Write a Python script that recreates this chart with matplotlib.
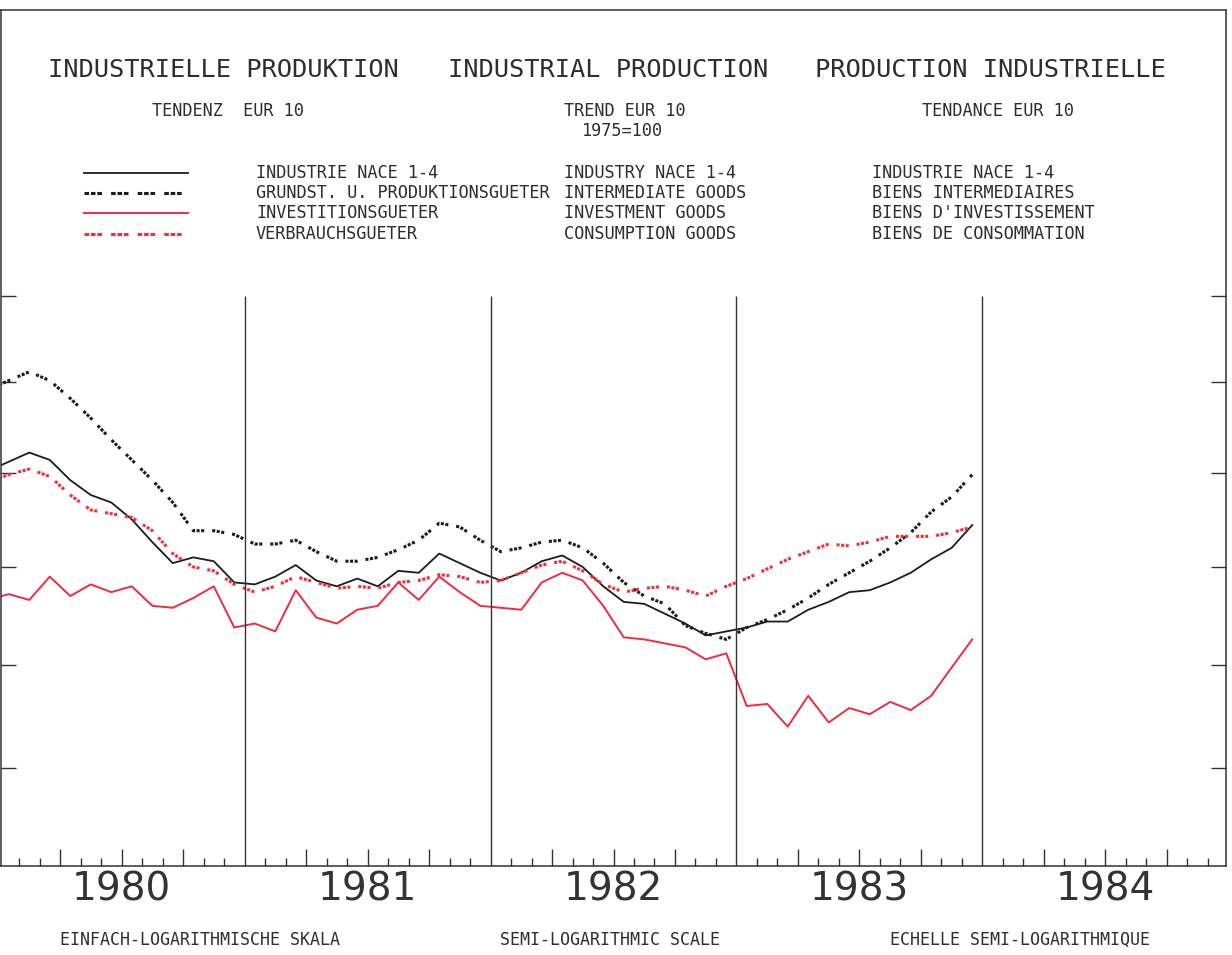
import matplotlib.pyplot as plt
import numpy as np
from matplotlib.lines import Line2D
from matplotlib.ticker import FixedLocator, NullLocator, NullFormatter
from matplotlib.transforms import blended_transform_factory

plt.rcParams['font.family'] = ['DejaVu Sans Mono']

# monthly trend values EUR 10, 1975=100, Dec 1979 .. Dec 1983
industrie = [120.1, 120.6, 121.1, 120.7, 119.6, 118.8, 118.4, 117.5, 116.3, 115.2, 115.5, 115.3, 114.2,
             114.1, 114.5, 115.1, 114.3, 114.0, 114.4, 114.0, 114.8, 114.7, 115.7, 115.2, 114.7,
             114.3, 114.7, 115.3, 115.6, 115.0, 114.0, 113.2, 113.1, 112.6, 112.1, 111.5, 111.7,
             111.9, 112.2, 112.2, 112.8, 113.2, 113.7, 113.8, 114.2, 114.7, 115.4, 116.0, 117.2]
grundstoffe = [124.6, 125.1, 125.6, 125.1, 124.1, 123.0, 121.8, 120.7, 119.6, 118.4, 116.9, 116.9, 116.7,
               116.2, 116.2, 116.4, 115.8, 115.3, 115.3, 115.5, 115.9, 116.4, 117.3, 117.1, 116.4,
               115.8, 116.0, 116.3, 116.4, 116.0, 115.2, 114.2, 113.5, 113.1, 112.0, 111.6, 111.3,
               111.9, 112.3, 112.8, 113.4, 114.1, 114.7, 115.3, 116.0, 116.8, 117.9, 118.7, 119.9]
investition = [113.3, 113.6, 113.3, 114.5, 113.5, 114.1, 113.7, 114.0, 113.0, 112.9, 113.4, 114.0, 111.9,
               112.1, 111.7, 113.8, 112.4, 112.1, 112.8, 113.0, 114.2, 113.3, 114.5, 113.7, 113.0,
               112.9, 112.8, 114.2, 114.7, 114.3, 113.0, 111.4, 111.3, 111.1, 110.9, 110.3, 110.6,
               108.0, 108.1, 107.0, 108.5, 107.2, 107.9, 107.6, 108.2, 107.8, 108.5, 109.9, 111.3]
verbrauch = [119.5, 119.9, 120.2, 119.8, 118.8, 118.0, 117.8, 117.6, 116.9, 115.7, 115.0, 114.8, 114.1,
             113.7, 114.0, 114.5, 114.2, 113.9, 114.0, 113.9, 114.2, 114.3, 114.6, 114.5, 114.2,
             114.3, 114.7, 115.1, 115.3, 114.8, 114.1, 113.7, 113.9, 114.0, 113.8, 113.5, 114.0,
             114.4, 114.9, 115.4, 115.8, 116.2, 116.1, 116.3, 116.6, 116.6, 116.6, 116.8, 117.1]

first_year, first_month = 1979, 12
years = [1980, 1981, 1982, 1983, 1984]
y_ticks = [105, 110, 115, 120, 125, 130]

titles = ["INDUSTRIELLE PRODUKTION", "INDUSTRIAL PRODUCTION", "PRODUCTION INDUSTRIELLE"]
subtitles = ["TENDENZ  EUR 10", "TREND EUR 10", "TENDANCE EUR 10"]
labels_de = ["INDUSTRIE NACE 1-4", "GRUNDST. U. PRODUKTIONSGUETER", "INVESTITIONSGUETER", "VERBRAUCHSGUETER"]
labels_en = ["INDUSTRY NACE 1-4", "INTERMEDIATE GOODS", "INVESTMENT GOODS", "CONSUMPTION GOODS"]
labels_fr = ["INDUSTRIE NACE 1-4", "BIENS INTERMEDIAIRES", "BIENS D'INVESTISSEMENT", "BIENS DE CONSOMMATION"]
footer = ["EINFACH-LOGARITHMISCHE SKALA", "SEMI-LOGARITHMIC SCALE", "ECHELLE SEMI-LOGARITHMIQUE"]

n = len(industrie)
t = first_year + (first_month - 1 + np.arange(n) + 0.5) / 12

W, H = 1232, 955
fig = plt.figure(figsize=(W / 100, H / 100), dpi=100)
ax = fig.add_axes([1 / W, 1 - 866 / H, 1225 / W, 856 / H])
ax.set_yscale('log')
ylo, yhi = 100.47, 147.9
ax.set_ylim(ylo, yhi)
ax.set_xlim(years[0] + 0.01, years[-1] + 0.99)

ink = '#1c1c1c'
red = '#ee2b45'
dots = (0, (1.0, 0.5, 1.0, 0.5, 1.0, 2.6))
styles = [dict(color=ink, lw=1.3),
          dict(color=ink, lw=2.2, ls=dots, dash_capstyle='butt'),
          dict(color=red, lw=1.4),
          dict(color='#f2303c', lw=2.2, ls=dots, dash_capstyle='butt')]
for series, st in zip([industrie, grundstoffe, investition, verbrauch], styles):
    ax.plot(t, series, **st)

# year separators
ax.vlines(years[1:], ylo, y_ticks[-1], color='#333333', lw=1.0)

for s in ax.spines.values():
    s.set_color('#333333')
    s.set_linewidth(1.1)

ax.yaxis.set_major_locator(FixedLocator(y_ticks))
ax.yaxis.set_minor_locator(NullLocator())
ax.yaxis.set_major_formatter(NullFormatter())
ax.yaxis.set_minor_formatter(NullFormatter())
ax.tick_params(axis='y', which='major', direction='in', length=11, width=1,
               left=True, right=True, labelleft=False, color='#333333')

months = [y + m / 12 for y in years for m in range(1, 12)]
quarters = [y + q / 12 for y in years for q in (3, 6, 9)]
ax.xaxis.set_major_locator(FixedLocator(quarters))
ax.xaxis.set_minor_locator(FixedLocator([m for m in months if m not in quarters]))
ax.xaxis.set_major_formatter(NullFormatter())
ax.tick_params(axis='x', which='major', direction='in', length=12, width=1, color='#333333')
ax.tick_params(axis='x', which='minor', direction='in', length=6, width=1, color='#333333')


def ftext(x, y, s, **kw):
    fig.text(x / W, 1 - y / H, s, va='center', color='#2e2e2e', **kw)


for x, s in zip([48, 448, 815], titles):
    ftext(x, 70, s, fontsize=18.3)
for x, s in zip([152, 564, 922], subtitles):
    ftext(x, 111, s, fontsize=12.2)
ftext(582, 131, "1975=100", fontsize=12.2)

rows = [173, 193, 213, 234]
leg_dots = (0, (1.5, 0.6, 1.5, 0.6, 1.5, 3.0))
leg_styles = [dict(color=ink, lw=1.3),
              dict(color=ink, lw=2.2, ls=leg_dots, dash_capstyle='butt'),
              dict(color=red, lw=1.4),
              dict(color='#f2303c', lw=2.2, ls=leg_dots, dash_capstyle='butt')]
for y, st, de, en, fr in zip(rows, leg_styles, labels_de, labels_en, labels_fr):
    fig.add_artist(Line2D([84 / W, 188 / W], [1 - y / H] * 2, transform=fig.transFigure, **st))
    ftext(256, y, de, fontsize=12.2)
    ftext(564, y, en, fontsize=12.2)
    ftext(872, y, fr, fontsize=12.2)

year_tr = blended_transform_factory(ax.transData, fig.transFigure)
for yr in years:
    ax.text(yr + 0.5, 1 - 889 / H, str(yr), transform=year_tr,
            ha='center', va='center', fontsize=28, family='DejaVu Sans', color='#333333')

for x, s in zip([60, 500, 890], footer):
    ftext(x, 940, s, fontsize=12)

fig.savefig("out.png", dpi=100, facecolor='white')
